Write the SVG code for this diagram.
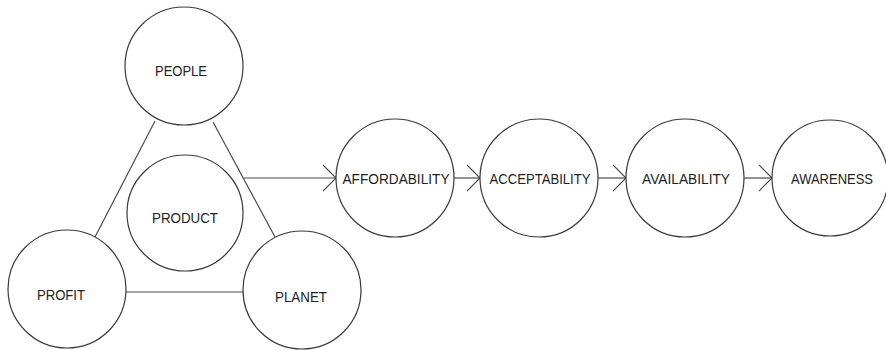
<svg xmlns="http://www.w3.org/2000/svg" width="886" height="350" viewBox="0 0 886 350">
<style>
.n circle{fill:#fff;stroke:#3a3a3a;stroke-width:1.2}
.n text{font-family:"Liberation Sans",Arial,sans-serif;font-size:15px;fill:#222;text-anchor:middle}
.c line,.c path{stroke:#4a4a4a;stroke-width:1.2;fill:none}
</style>
<defs>
<marker id="ah" markerUnits="userSpaceOnUse" markerWidth="16" markerHeight="30" refX="13" refY="14" orient="auto" viewBox="0 0 16 30">
<path d="M0,1 L13,14 L0,27" fill="none" stroke="#4a4a4a" stroke-width="1.2"/>
</marker>
</defs>
<rect width="886" height="350" fill="#fff"/>
<g class="c" id="connectors">
<line x1="155" y1="121" x2="95" y2="237"/>
<line x1="213" y1="122" x2="275" y2="237"/>
<line x1="126" y1="292" x2="243" y2="292"/>
<line x1="244" y1="178" x2="336" y2="178" marker-end="url(#ah)"/>
<line x1="454" y1="178" x2="480" y2="178" marker-end="url(#ah)"/>
<line x1="598" y1="178" x2="626" y2="178" marker-end="url(#ah)"/>
<line x1="744" y1="178" x2="772" y2="178" marker-end="url(#ah)"/>
</g>
<g class="n" id="people"><circle cx="184" cy="66" r="59"/><text x="181" y="76" textLength="52" lengthAdjust="spacingAndGlyphs">PEOPLE</text></g>
<g class="n" id="product"><circle cx="185" cy="213" r="58"/><text x="185" y="223" textLength="66" lengthAdjust="spacingAndGlyphs">PRODUCT</text></g>
<g class="n" id="profit"><circle cx="67" cy="289" r="59"/><text x="61" y="300" textLength="48" lengthAdjust="spacingAndGlyphs">PROFIT</text></g>
<g class="n" id="planet"><circle cx="302" cy="290" r="59"/><text x="301" y="302" textLength="52" lengthAdjust="spacingAndGlyphs">PLANET</text></g>
<g class="n" id="affordability"><circle cx="395" cy="178" r="59"/><text x="396" y="184" textLength="107" lengthAdjust="spacingAndGlyphs">AFFORDABILITY</text></g>
<g class="n" id="acceptability"><circle cx="539" cy="178" r="59"/><text x="540" y="184" textLength="101" lengthAdjust="spacingAndGlyphs">ACCEPTABILITY</text></g>
<g class="n" id="availability"><circle cx="685" cy="178" r="59"/><text x="686" y="184" textLength="88" lengthAdjust="spacingAndGlyphs">AVAILABILITY</text></g>
<g class="n" id="awareness"><circle cx="830" cy="178" r="58"/><text x="832" y="184" textLength="82" lengthAdjust="spacingAndGlyphs">AWARENESS</text></g>
</svg>
